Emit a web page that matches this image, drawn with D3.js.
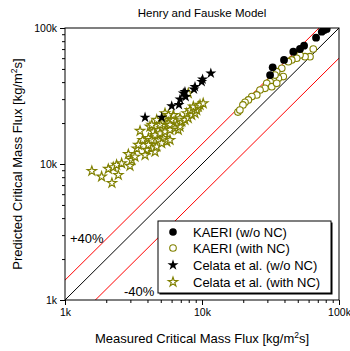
<!DOCTYPE html>
<html>
<head>
<meta charset="utf-8">
<script src="https://cdn.jsdelivr.net/npm/d3@7"></script>
<style>
  html, body { margin: 0; padding: 0; background: #fff; }
  svg { display: block; font-family: "Liberation Sans", Arial, sans-serif; }
</style>
</head>
<body>
<svg id="chart" width="350" height="351"></svg>
<script>
// Critical mass flux: measured (x) vs predicted by the Henry–Fauske model (y), kg/m²s
const kaeriNoNC = [
  [31.4e3, 45.1e3], [32.8e3, 51.4e3], [39.7e3, 58.2e3], [46.4e3, 66.9e3],
  [51.9e3, 70.1e3], [55.6e3, 74.1e3], [68.0e3, 84.9e3], [74.8e3, 93.9e3],
  [78.1e3, 96.7e3], [81.3e3, 98.4e3]
];
const kaeriWithNC = [
  [64.9e3, 70.1e3], [61.4e3, 61.5e3], [56.5e3, 61.5e3], [51.9e3, 63.3e3],
  [49.1e3, 59.9e3], [45.2e3, 58.2e3], [42.7e3, 56.5e3], [38.2e3, 50.5e3],
  [35.1e3, 47.7e3], [39.2e3, 43.9e3], [36.1e3, 42.7e3], [33.1e3, 41.5e3],
  [31.4e3, 40.3e3], [29.7e3, 39.2e3], [32.3e3, 37.0e3], [35.1e3, 39.2e3],
  [34.1e3, 45.1e3], [28.8e3, 36.0e3], [26.5e3, 35.0e3], [25.1e3, 32.2e3],
  [23.1e3, 31.3e3], [21.8e3, 29.6e3], [20.6e3, 28.4e3], [19.9e3, 27.2e3],
  [18.3e3, 24.1e3], [18.9e3, 24.9e3]
];
const celataNoNC = [
  [3.84e3, 22.0e3], [5.08e3, 22.0e3], [6.01e3, 26.7e3], [6.79e3, 27.2e3],
  [6.91e3, 29.9e3], [7.30e3, 33.1e3], [7.51e3, 34.0e3], [7.60e3, 31.2e3],
  [8.74e3, 35.4e3], [8.89e3, 37.0e3], [9.95e3, 40.3e3], [10.1e3, 42.0e3],
  [11.6e3, 46.4e3]
];
const celataWithNC = [
  [1.57e3, 8.88e3], [1.85e3, 8.07e3], [2.07e3, 9.19e3], [2.25e3, 9.46e3],
  [2.38e3, 9.84e3], [2.59e3, 10.1e3], [2.45e3, 8.30e3], [2.98e3, 9.67e3],
  [3.07e3, 10.7e3], [2.90e3, 11.8e3], [3.24e3, 11.3e3], [3.34e3, 13.0e3],
  [3.53e3, 17.5e3], [3.69e3, 15.0e3], [3.43e3, 13.8e3], [3.95e3, 12.7e3],
  [4.30e3, 13.0e3], [4.54e3, 12.3e3], [3.84e3, 11.6e3], [4.17e3, 18.8e3],
  [4.41e3, 17.3e3], [4.80e3, 17.8e3], [5.08e3, 18.3e3], [4.06e3, 15.5e3],
  [4.30e3, 15.0e3], [4.80e3, 15.0e3], [5.22e3, 15.5e3], [5.53e3, 14.6e3],
  [5.84e3, 15.0e3], [4.54e3, 16.3e3], [4.94e3, 16.8e3], [5.37e3, 17.3e3],
  [5.84e3, 17.8e3], [4.06e3, 13.8e3], [4.67e3, 13.4e3], [5.08e3, 14.2e3],
  [5.22e3, 20.5e3], [5.68e3, 19.9e3], [6.01e3, 21.1e3], [6.18e3, 22.9e3],
  [5.84e3, 19.4e3], [6.54e3, 19.4e3], [6.35e3, 18.3e3], [6.71e3, 17.8e3],
  [6.91e3, 18.8e3], [7.11e3, 20.5e3], [6.91e3, 21.7e3], [7.51e3, 21.1e3],
  [7.94e3, 21.7e3], [7.73e3, 23.6e3], [8.41e3, 22.9e3], [8.89e3, 23.6e3],
  [9.15e3, 24.9e3], [8.17e3, 24.9e3], [8.64e3, 26.4e3], [9.40e3, 26.4e3],
  [9.67e3, 27.2e3], [10.2e3, 27.9e3], [7.94e3, 33.1e3], [5.37e3, 23.6e3],
  [5.68e3, 22.9e3], [4.94e3, 19.4e3], [4.67e3, 21.1e3], [4.30e3, 19.4e3],
  [2.20e3, 7.25e3]
];
const tickValues = [1e3, 1e4, 1e5];
const tickLabels = ["1k", "10k", "100k"];
const minorTicks = [2,3,4,5,6,7,8,9].flatMap(m => [m * 1e3, m * 1e4]);
const bandFactors = [1.4, 0.6];          // ±40 % lines
const legendLabels = ["KAERI (w/o NC)", "KAERI (with NC)", "Celata et al. (w/o NC)", "Celata et al. (with NC)"];

const OLIVE = "#808000";
const svg = d3.select("#chart");
const L = 65, R = 339, T = 28, B = 300;

const x = d3.scaleLog().domain([1e3, 1e5]).range([L, R]);
const y = d3.scaleLog().domain([1e3, 1e5]).range([B, T]);

svg.append("defs").append("clipPath").attr("id", "plot")
  .append("rect").attr("x", L).attr("y", T).attr("width", R - L).attr("height", B - T);

// Title
svg.append("text").attr("x", 202).attr("y", 17).attr("text-anchor", "middle")
  .attr("font-size", 11.5).text("Henry and Fauske Model");

// Reference lines: perfect agreement and ±40 %
const lines = svg.append("g").attr("clip-path", "url(#plot)");
lines.append("line")
  .attr("x1", x(1e3)).attr("y1", y(1e3)).attr("x2", x(1e5)).attr("y2", y(1e5))
  .attr("stroke", "#000").attr("stroke-width", 1);
bandFactors.forEach(f => {
  lines.append("line")
    .attr("x1", x(1e3)).attr("y1", y(1e3 * f)).attr("x2", x(1e5)).attr("y2", y(1e5 * f))
    .attr("stroke", "#ff0000").attr("stroke-width", 1);
});

// Data markers
const pts = svg.append("g").attr("clip-path", "url(#plot)");
const starSmall = d3.symbol().type(d3.symbolStar).size(27);
const starBig = d3.symbol().type(d3.symbolStar).size(38);

pts.selectAll(".cw").data(celataWithNC).join("path")
  .attr("transform", d => `translate(${x(d[0])},${y(d[1])})`)
  .attr("d", starSmall).attr("fill", "#fff").attr("stroke", OLIVE).attr("stroke-width", 1.2);
pts.selectAll(".cn").data(celataNoNC).join("path")
  .attr("transform", d => `translate(${x(d[0])},${y(d[1])})`)
  .attr("d", starBig).attr("fill", "#000");
pts.selectAll(".kw").data(kaeriWithNC).join("circle")
  .attr("cx", d => x(d[0])).attr("cy", d => y(d[1])).attr("r", 3.3)
  .attr("fill", "#fff").attr("stroke", OLIVE).attr("stroke-width", 1.1);
pts.selectAll(".kn").data(kaeriNoNC).join("circle")
  .attr("cx", d => x(d[0])).attr("cy", d => y(d[1])).attr("r", 3.9)
  .attr("fill", "#000");

// Band labels
svg.append("text").attr("x", 70).attr("y", 243).attr("font-size", 13).text("+40%");
svg.append("text").attr("x", 124).attr("y", 296).attr("font-size", 13).text("-40%");

// Frame
svg.append("rect").attr("x", L).attr("y", T).attr("width", R - L).attr("height", B - T)
  .attr("fill", "none").attr("stroke", "#000").attr("stroke-width", 1);

// Axes
const xAxis = svg.append("g").attr("transform", `translate(0,${B})`);
xAxis.call(d3.axisBottom(x).tickValues(tickValues).tickFormat((d, i) => tickLabels[i]).tickSize(5).tickPadding(4));
xAxis.append("g").call(d3.axisBottom(x).tickValues(minorTicks).tickFormat("").tickSize(3));
const yAxis = svg.append("g").attr("transform", `translate(${L},0)`);
yAxis.call(d3.axisLeft(y).tickValues(tickValues).tickFormat((d, i) => tickLabels[i]).tickSize(5).tickPadding(3));
yAxis.append("g").call(d3.axisLeft(y).tickValues(minorTicks).tickFormat("").tickSize(3));
svg.selectAll(".domain").remove();
svg.selectAll(".tick text").attr("font-size", 10.5).attr("font-family", "Liberation Sans, Arial, sans-serif").attr("fill", "#000");
svg.selectAll(".tick line").attr("stroke", "#000");

// Axis titles
const xt = svg.append("text").attr("x", 202).attr("y", 343).attr("text-anchor", "middle").attr("font-size", 13);
xt.append("tspan").text("Measured Critical Mass Flux [kg/m");
xt.append("tspan").attr("font-size", 8.5).attr("dy", -5).text("2");
xt.append("tspan").attr("dy", 5).text("s]");

const yt = svg.append("text").attr("transform", `translate(22,${(T + B) / 2}) rotate(-90)`)
  .attr("text-anchor", "middle").attr("font-size", 13);
yt.append("tspan").text("Predicted Critical Mass Flux [kg/m");
yt.append("tspan").attr("font-size", 8.5).attr("dy", -5).text("2");
yt.append("tspan").attr("dy", 5).text("s]");

// Legend
const lg = svg.append("g");
lg.append("rect").attr("x", 159.5).attr("y", 222.5).attr("width", 173).attr("height", 72).attr("fill", "#000");
lg.append("rect").attr("x", 158).attr("y", 221).attr("width", 173).attr("height", 72)
  .attr("fill", "#fff").attr("stroke", "#000").attr("stroke-width", 1);
const rowY = [232, 248, 265, 282];
legendLabels.forEach((label, i) => {
  const cx = 173, cy = rowY[i];
  if (i === 0) lg.append("circle").attr("cx", cx).attr("cy", cy).attr("r", 3.8).attr("fill", "#000");
  if (i === 1) lg.append("circle").attr("cx", cx).attr("cy", cy).attr("r", 3.3).attr("fill", "#fff").attr("stroke", OLIVE).attr("stroke-width", 1.1);
  if (i === 2) lg.append("path").attr("transform", `translate(${cx},${cy})`).attr("d", starBig).attr("fill", "#000");
  if (i === 3) lg.append("path").attr("transform", `translate(${cx},${cy})`).attr("d", starSmall).attr("fill", "#fff").attr("stroke", OLIVE).attr("stroke-width", 1.2);
  lg.append("text").attr("x", 193).attr("y", cy + 4.5).attr("font-size", 13).text(label);
});
</script>
</body>
</html>
